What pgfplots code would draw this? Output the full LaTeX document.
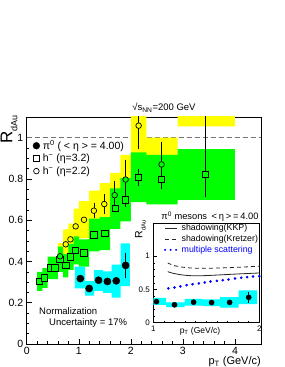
\documentclass[border=0pt]{standalone}
\usepackage{pgfplots}
\pgfplotsset{compat=1.18}
\usepackage{fontspec}
\setmainfont{Liberation Sans}
\definecolor{ryellow}{RGB}{255,255,0}
\definecolor{rgreen}{RGB}{0,255,0}
\definecolor{rcyan}{RGB}{0,255,255}
\definecolor{rblue}{RGB}{0,0,255}
\newcommand{\sep}{\hspace{0.28em}}
\newcommand{\tsep}{\hspace{0.2em}}
\begin{document}
\begin{tikzpicture}
\path[use as bounding box] (0,0) rectangle (284pt,367pt);
\begin{axis}[
  at={(26.7pt,23pt)}, anchor=south west,
  width=234.3pt, height=227pt, scale only axis,
  xmin=0, xmax=4.5, ymin=0, ymax=1.1,
  xtick={0,1,2,3,4}, ytick={0,0.2,0.4,0.6,0.8,1},
  minor x tick num=4, minor y tick num=3,
  xtick pos=left, ytick pos=left,
  tick align=inside,
  major tick length=5pt, minor tick length=2.5pt,
  tick style={black, line width=0.5pt},
  axis line style={line width=0.7pt},
  ticklabel style={font=\fontsize{10.5}{12}\selectfont},
  /pgf/number format/assume math mode=true,
  legend image code/.code={\draw[mark repeat=2,mark phase=2,#1] plot coordinates {(0cm,0cm) (0.15cm,0cm) (0.3cm,0cm)};},
  legend style={at={(0.026,0.902)}, anchor=north west, draw=none, fill=none,
    inner sep=0pt, nodes={inner sep=1pt},
    /tikz/every odd column/.append style={column sep=2pt},
    font=\fontsize{10.5}{11}\selectfont, row sep=1.2pt},
  legend cell align=left,
]
% reference line
\addplot[black!55, line width=0.8pt, dash pattern=on 5pt off 3pt, forget plot] coordinates {(0,1) (4.5,1)};
% h- eta=2.2 systematic boxes
\addplot[fill=ryellow, draw=none, forget plot] coordinates {
(0.6,0.489)(0.7,0.489)(0.7,0.555)(0.8,0.555)(0.8,0.583)(0.9,0.583)(0.9,0.656)(1.0,0.656)(1.0,0.692)(1.2,0.692)(1.2,0.743)(1.4,0.743)(1.4,0.780)(1.6,0.780)(1.6,0.829)(1.8,0.829)(1.8,0.917)(2.0,0.917)(2.0,1.217)(2.3,1.217)(2.3,1.0)(2.9,1.0)(2.9,1.43)(4.0,1.43)
(4.0,1.054)(2.9,1.054)(2.9,0.740)(2.3,0.740)(2.3,0.899)(2.0,0.899)(2.0,0.677)(1.8,0.677)(1.8,0.613)(1.6,0.613)(1.6,0.576)(1.4,0.576)(1.4,0.549)(1.2,0.549)(1.2,0.512)(1.0,0.512)(1.0,0.485)(0.9,0.485)(0.9,0.431)(0.8,0.431)(0.8,0.411)(0.7,0.411)(0.7,0.361)(0.6,0.361)
} -- cycle;
% h- eta=3.2 systematic boxes
\addplot[fill=rgreen, draw=none, forget plot] coordinates {
(0.2,0.350)(0.3,0.350)(0.3,0.368)(0.4,0.368)(0.4,0.424)(0.6,0.424)(0.6,0.472)(0.7,0.472)(0.7,0.437)(0.8,0.437)(0.8,0.485)(0.9,0.485)(0.9,0.522)(1.0,0.522)(1.0,0.507)(1.2,0.507)(1.2,0.607)(1.4,0.607)(1.4,0.615)(1.6,0.615)(1.6,0.754)(1.8,0.754)(1.8,0.804)(2.0,0.804)(2.0,0.929)(2.3,0.929)(2.3,0.917)(2.9,0.917)(2.9,0.944)(4.0,0.944)
(4.0,0.698)(2.9,0.698)(2.9,0.677)(2.3,0.677)(2.3,0.687)(2.0,0.687)(2.0,0.594)(1.8,0.594)(1.8,0.558)(1.6,0.558)(1.6,0.455)(1.4,0.455)(1.4,0.449)(1.2,0.449)(1.2,0.375)(1.0,0.375)(1.0,0.386)(0.9,0.386)(0.9,0.359)(0.8,0.359)(0.8,0.323)(0.7,0.323)(0.7,0.349)(0.6,0.349)(0.6,0.314)(0.4,0.314)(0.4,0.272)(0.3,0.272)(0.3,0.258)(0.2,0.258)
} -- cycle;
% pi0 systematic boxes
\addplot[fill=rcyan, draw=none, forget plot] coordinates {
(0.925,0.375)(1.12,0.375)(1.12,0.305)(1.295,0.305)(1.295,0.358)(1.465,0.358)(1.465,0.352)(1.63,0.352)(1.63,0.385)(1.805,0.385)(1.805,0.488)(1.98,0.488)
(1.98,0.28)(1.805,0.28)(1.805,0.225)(1.63,0.225)(1.63,0.248)(1.465,0.248)(1.465,0.258)(1.295,0.258)(1.295,0.235)(1.12,0.235)(1.12,0.27)(0.925,0.27)
} -- cycle;
% error bars (eta=3.2)
\addplot[only marks, mark=none, black, forget plot,
  error bars/.cd, y dir=both, y explicit,
  error bar style={line width=0.7pt}, error mark options={mark size=2.8pt, line width=0.7pt}]
  coordinates {(1.90,0.699)+-(0,0.02) (2.14,0.808)+-(0,0.027) (2.59,0.797)+-(0,0.03) (3.43,0.821)+-(0,0.095)};
% error bars (eta=2.2)
\addplot[only marks, mark=none, black, forget plot,
  error bars/.cd, y dir=both, y explicit,
  error bar style={line width=0.7pt}, error mark options={mark size=2.8pt, line width=0.7pt}]
  coordinates {(1.29,0.646)+-(0,0.024) (1.49,0.678)+-(0,0.034) (1.69,0.721)+-(0,0.054) (1.90,0.797)+-(0,0.080) (2.15,1.058)+-(0,0.100) (2.59,0.870)+-(0,0.093) (3.43,1.24)+-(0,0.32)};
% h- eta=3.2 (open squares, background shows through)
\addplot[only marks, mark=square*, mark size=3.2pt, draw=black, fill=rgreen, line width=0.7pt, forget plot] coordinates {
(0.24,0.304)(0.34,0.320)(0.45,0.369)(0.54,0.369)(0.64,0.410)(0.75,0.380)(0.84,0.422)(0.94,0.454)(1.10,0.441)(1.29,0.528)(1.50,0.535)(1.70,0.656)(1.90,0.699)(2.14,0.808)(2.59,0.797)(3.43,0.821)};
% h- eta=2.2 (open circles on yellow)
\addplot[only marks, mark=*, mark size=2.8pt, draw=black, fill=ryellow, line width=0.7pt, forget plot] coordinates {
(0.75,0.483)(0.84,0.507)(0.94,0.570)(1.10,0.602)(1.29,0.646)(1.49,0.678)(2.15,1.058)};
% h- eta=2.2 (open circles on green)
\addplot[only marks, mark=*, mark size=2.8pt, draw=black, fill=rgreen, line width=0.7pt, forget plot] coordinates {
(0.64,0.425)(1.69,0.721)(1.90,0.797)(2.59,0.870)(3.43,1.24)};
% pi0
\addplot[only marks, mark=*, mark size=3.6pt, black, forget plot,
  error bars/.cd, y dir=both, y explicit,
  error bar style={line width=0.7pt}, error mark options={mark size=2.8pt, line width=0.7pt}]
  coordinates {(1.03,0.317)+-(0,0) (1.20,0.269)+-(0,0) (1.38,0.309)+-(0,0) (1.55,0.303)+-(0,0) (1.72,0.306)+-(0,0) (1.90,0.381)+-(0,0.048)};
\addlegendimage{only marks, mark=*, mark size=3.4pt, black}
\addlegendentry{π\textsuperscript{0} (\sep<\sep η\sep>\sep=\sep 4.00)}
\addlegendimage{only marks, mark=square, mark size=3pt, black, line width=0.7pt}
\addlegendentry{h\textsuperscript{−} (η=3.2)}
\addlegendimage{only marks, mark=o, mark size=2.8pt, black, line width=0.7pt}
\addlegendentry{h\textsuperscript{−} (η=2.2)}
\end{axis}

% inset
\begin{axis}[
  at={(153.3pt,44.3pt)}, anchor=south west,
  width=106pt, height=99.7pt, scale only axis,
  xmin=1, xmax=2, ymin=0, ymax=1.5,
  xtick={1,2}, ytick={0,0.5,1},
  minor x tick num=9, minor y tick num=4,
  xtick pos=left, ytick pos=left,
  tick align=inside,
  major tick length=3.5pt, minor tick length=2pt,
  tick style={black, line width=0.5pt},
  axis line style={line width=0.7pt},
  axis background/.style={fill=white},
  ticklabel style={font=\fontsize{8}{9}\selectfont},
  /pgf/number format/assume math mode=true,
  legend image code/.code={\draw[#1] (0cm,0cm) -- (0.40cm,0cm);},
  legend style={at={(axis cs:1.10,1.5)}, anchor=north west, draw=none, fill=none,
    inner sep=0pt, nodes={inner sep=1pt},
    /tikz/every odd column/.append style={column sep=3pt},
    font=\fontsize{8.8}{9}\selectfont, row sep=1pt},
  legend cell align=left,
]
\addplot[fill=rcyan, draw=none, forget plot] coordinates {
(0.925,0.375)(1.12,0.375)(1.12,0.305)(1.295,0.305)(1.295,0.358)(1.465,0.358)(1.465,0.352)(1.63,0.352)(1.63,0.385)(1.805,0.385)(1.805,0.488)(1.98,0.488)
(1.98,0.28)(1.805,0.28)(1.805,0.225)(1.63,0.225)(1.63,0.248)(1.465,0.248)(1.465,0.258)(1.295,0.258)(1.295,0.235)(1.12,0.235)(1.12,0.27)(0.925,0.27)
} -- cycle;
\addplot[black!85, line width=0.8pt, smooth, forget plot] coordinates {
(1.136,0.768)(1.19,0.742)(1.28,0.717)(1.38,0.706)(1.5,0.709)(1.66,0.722)(1.82,0.735)(2.0,0.748)};
\addplot[black!85, line width=0.8pt, smooth, dash pattern=on 4pt off 3pt, forget plot] coordinates {
(1.136,0.90)(1.19,0.862)(1.28,0.835)(1.38,0.82)(1.5,0.818)(1.66,0.825)(1.82,0.835)(2.0,0.85)};
\addplot[only marks, mark=*, mark size=1.1pt, rblue, forget plot] coordinates {
(1.142,0.516)(1.2,0.531)(1.256,0.546)(1.314,0.565)(1.37,0.58)(1.43,0.59)(1.485,0.605)(1.54,0.62)(1.6,0.63)(1.655,0.64)(1.71,0.65)(1.77,0.665)(1.83,0.675)(1.885,0.685)(1.94,0.695)(2.0,0.70)};
\addplot[only marks, mark=*, mark size=2.6pt, black, forget plot,
  error bars/.cd, y dir=both, y explicit,
  error bar style={line width=0.7pt}, error mark options={mark size=2.2pt, line width=0.7pt}]
  coordinates {(1.03,0.317)+-(0,0) (1.20,0.269)+-(0,0) (1.38,0.309)+-(0,0) (1.55,0.303)+-(0,0) (1.72,0.306)+-(0,0) (1.90,0.381)+-(0,0.05)};
\addlegendimage{black!85, line width=0.8pt}
\addlegendentry{shadowing(KKP)}
\addlegendimage{black!85, line width=0.8pt, dash pattern=on 4pt off 3pt}
\addlegendentry{shadowing(Kretzer)}
\addlegendimage{rblue, line width=2.2pt, line cap=round, dash pattern=on 0pt off 5.5pt}
\addlegendentry{\textcolor{rblue}{multiple scattering}}
\end{axis}

% texts
\node[anchor=base] at (164pt,256pt) {\fontsize{9.5}{10}\selectfont √s\textsubscript{NN}=200 GeV};
\node[rotate=90, anchor=north east, inner sep=0pt] at (0.5pt,252pt) {\fontsize{17}{17}\selectfont R\raisebox{-0.3em}{\fontsize{9}{9}\selectfont dAu}};
\node[anchor=base east, inner sep=0pt] at (261pt,2.5pt) {\fontsize{11}{12}\selectfont p\textsubscript{T} (GeV/c)};
\node[anchor=base west, inner sep=0pt] at (39pt,52pt) {\fontsize{9.5}{10}\selectfont Normalization};
\node[anchor=base west, inner sep=0pt] at (49pt,41.5pt) {\fontsize{9.5}{10}\selectfont Uncertainty = 17\%};
\node[anchor=base, inner sep=0pt] at (210pt,147pt) {\fontsize{9.3}{10}\selectfont π\textsuperscript{0} mesons \tsep<\tsep η\tsep>\tsep=\tsep 4.00};
\node[rotate=90, anchor=north east, inner sep=0pt] at (135pt,147pt) {\fontsize{10.5}{11}\selectfont R\raisebox{-0.3em}{\fontsize{6}{6}\selectfont dAu}};
\node[anchor=base, inner sep=0pt] at (200pt,34pt) {\fontsize{8.5}{9}\selectfont p\textsubscript{T} (GeV/c)};
\end{tikzpicture}
\end{document}
